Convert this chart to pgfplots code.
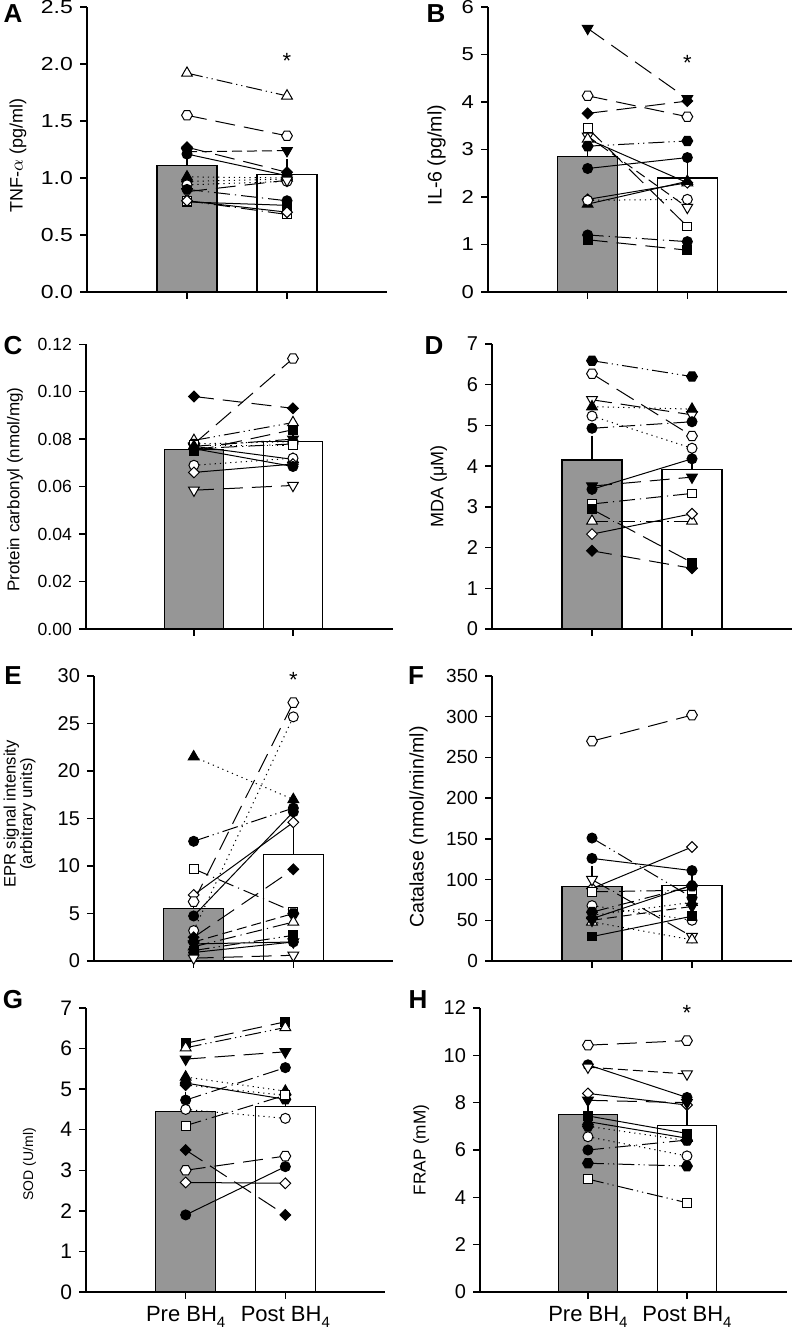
\documentclass[border=0pt]{standalone}
\usepackage{fontspec}
\setmainfont{Liberation Sans}
\usepackage{pgfplots}
\pgfplotsset{compat=1.18}
\usetikzlibrary{plotmarks}

\pgfdeclareplotmark{hexagon*}{%
 \pgfpathmoveto{\pgfqpoint{\pgfplotmarksize}{0pt}}%
 \pgfpathlineto{\pgfqpoint{0.5\pgfplotmarksize}{0.866\pgfplotmarksize}}%
 \pgfpathlineto{\pgfqpoint{-0.5\pgfplotmarksize}{0.866\pgfplotmarksize}}%
 \pgfpathlineto{\pgfqpoint{-\pgfplotmarksize}{0pt}}%
 \pgfpathlineto{\pgfqpoint{-0.5\pgfplotmarksize}{-0.866\pgfplotmarksize}}%
 \pgfpathlineto{\pgfqpoint{0.5\pgfplotmarksize}{-0.866\pgfplotmarksize}}%
 \pgfpathclose
 \pgfusepathqfillstroke}

\definecolor{barg}{RGB}{150,150,150}
\newcommand\fs[1]{\fontsize{#1}{#1}\selectfont}
\newcommand\sub[1]{\raisebox{-0.5ex}{\fontsize{7.5}{8}\selectfont #1}}

\pgfplotsset{
 mfc/.style={mark=*, mark size=2.5pt, mark options={solid, draw=black, fill=black, line width=0.5pt}},
 moc/.style={mark=*, mark size=2.5pt, mark options={solid, draw=black, fill=white, line width=0.5pt}},
 mftu/.style={mark=triangle*, mark size=3.1pt, mark options={solid, draw=black, fill=black, line width=0.5pt}},
 motu/.style={mark=triangle*, mark size=3.1pt, mark options={solid, draw=black, fill=white, line width=0.5pt}},
 mftd/.style={mark=triangle*, mark size=3.1pt, mark options={solid, draw=black, fill=black, rotate=180, line width=0.5pt}},
 motd/.style={mark=triangle*, mark size=3.1pt, mark options={solid, draw=black, fill=white, rotate=180, line width=0.5pt}},
 mfs/.style={mark=square*, mark size=2.2pt, mark options={solid, draw=black, fill=black, line width=0.5pt}},
 mos/.style={mark=square*, mark size=2.2pt, mark options={solid, draw=black, fill=white, line width=0.5pt}},
 mfd/.style={mark=square*, mark size=1.9pt, mark options={solid, draw=black, fill=black, rotate=45, line width=0.5pt}},
 mod/.style={mark=square*, mark size=1.9pt, mark options={solid, draw=black, fill=white, rotate=45, line width=0.5pt}},
 mfh/.style={mark=hexagon*, mark size=2.7pt, mark options={solid, draw=black, fill=black, line width=0.5pt}},
 moh/.style={mark=hexagon*, mark size=2.7pt, mark options={solid, draw=black, fill=white, line width=0.5pt}},
 ls1/.style={solid},
 ls2/.style={dash pattern=on 10pt off 4.5pt},
 ls3/.style={dash pattern=on 0.6pt off 2pt},
 ls4/.style={dash pattern=on 8pt off 2.5pt on 0.6pt off 2.5pt},
 ls5/.style={dash pattern=on 8pt off 2pt on 0.6pt off 2pt on 0.6pt off 2pt},
 ls6/.style={dash pattern=on 5pt off 2.5pt},
 panel/.style={
  scale only axis, axis lines*=left, xmin=0, xmax=3, ymin=0,
  xtick={1,2}, xticklabels={}, tick align=outside, major tick length=3.5pt,
  axis line style={line width=0.7pt, black}, tick style={line width=0.7pt, black},
  /pgf/number format/assume math mode=true, scaled y ticks=false, clip=false,
  anchor=south west,
 },
 bargray/.style={ybar, bar width=0.6, fill=barg, draw=black, line width=0.6pt,
  error bars/.cd, y dir=plus, y explicit,
  error bar style={line width=0.6pt, black, solid},
  error mark options={line width=0.6pt, black, mark size=3pt}},
 barwhite/.style={ybar, bar width=0.6, fill=white, draw=black, line width=0.6pt,
  error bars/.cd, y dir=plus, y explicit,
  error bar style={line width=0.6pt, black, solid},
  error mark options={line width=0.6pt, black, mark size=3pt}},
}
\newcommand\subj[4]{\addplot[black, line width=0.5pt, #1, #2] coordinates {(1,#3) (2,#4)};}

\begin{document}
\begin{tikzpicture}
\useasboundingbox (0,0) rectangle (396pt,666.5pt);

% ---------- A ----------
\begin{axis}[panel, at={(43.5pt,520.5pt)}, width=150pt, height=142.5pt,
  ymax=2.5, ytick={0,0.5,...,2.5},
  yticklabel style={font=\fs{11.5}, yscale=0.82, /pgf/number format/.cd, fixed, fixed zerofill, precision=1},
  ylabel={TNF-$\alpha$ (pg/ml)}, ylabel style={font=\fs{9}, at={(axis description cs:-0.23,0.48)}, anchor=center}]
\addplot[bargray] coordinates {(1,1.108) +- (0,0.12)};
\addplot[barwhite] coordinates {(2,1.03) +- (0,0.08)};
\subj{motu}{ls5}{1.92}{1.72}
\subj{moh}{ls2}{1.55}{1.37}
\subj{mfd}{ls2}{1.27}{1.05}
\subj{mftd}{ls6}{1.23}{1.24}
\subj{mfc}{ls1}{1.21}{1.02}
\subj{mftu}{ls3}{1.01}{1.00}
\subj{mfh}{ls3}{0.97}{0.99}
\subj{moc}{ls3}{0.94}{0.97}
\subj{motd}{ls2}{0.88}{0.98}
\subj{mfc}{ls4}{0.90}{0.80}
\subj{mfs}{ls1}{0.79}{0.76}
\subj{mos}{ls4}{0.80}{0.68}
\subj{mod}{ls1}{0.80}{0.70}
\node[font=\fs{11}] at (axis cs:2,2.03) {*};
\end{axis}

% ---------- B ----------
\begin{axis}[panel, at={(244pt,520.5pt)}, width=149.5pt, height=142.5pt,
  ymax=6, ytick={0,1,...,6},
  yticklabel style={font=\fs{11}, yscale=0.85},
  ylabel={IL-6 (pg/ml)}, ylabel style={font=\fs{9.8}, at={(axis description cs:-0.172,0.48)}, anchor=center}]
\addplot[bargray] coordinates {(1,2.85) +- (0,0.28)};
\addplot[barwhite] coordinates {(2,2.40) +- (0,0.30)};
\subj{mftd}{ls2}{5.55}{4.07}
\subj{moh}{ls2}{4.13}{3.69}
\subj{mfd}{ls2}{3.76}{4.02}
\subj{mos}{ls2}{3.45}{1.38}
\subj{motd}{ls6}{3.28}{1.78}
\subj{motu}{ls1}{3.22}{2.30}
\subj{mfh}{ls5}{3.07}{3.18}
\subj{mfc}{ls1}{2.60}{2.83}
\subj{mod}{ls1}{1.95}{2.30}
\subj{mftu}{ls1}{1.85}{2.33}
\subj{moc}{ls3}{1.93}{1.95}
\subj{mfc}{ls4}{1.20}{1.06}
\subj{mfs}{ls2}{1.10}{0.88}
\node[font=\fs{11}] at (axis cs:2,4.82) {*};
\end{axis}

% ---------- C ----------
\begin{axis}[panel, at={(43pt,352pt)}, width=153.5pt, height=142.35pt,
  xmin=-0.09, xmax=3.01, ymax=0.12, ytick={0,0.02,...,0.12},
  yticklabel style={font=\fs{8.8}, /pgf/number format/.cd, fixed, fixed zerofill, precision=2},
  ylabel={Protein carbonyl (nmol/mg)}, ylabel style={font=\fs{8.5}, at={(axis description cs:-0.231,0.49)}, anchor=center}]
\addplot[bargray] coordinates {(1,0.0755) +- (0,0.003)};
\addplot[barwhite] coordinates {(2,0.079) +- (0,0.003)};
\subj{moh}{ls2}{0.078}{0.114}
\subj{mfd}{ls2}{0.098}{0.093}
\subj{motu}{ls5}{0.0795}{0.087}
\subj{mfs}{ls2}{0.075}{0.084}
\subj{mftd}{ls4}{0.077}{0.080}
\subj{mfc}{ls4}{0.076}{0.078}
\subj{mfh}{ls3}{0.078}{0.079}
\subj{mos}{ls3}{0.0775}{0.0775}
\subj{mftu}{ls1}{0.077}{0.0715}
\subj{moc}{ls3}{0.069}{0.072}
\subj{mod}{ls1}{0.066}{0.0695}
\subj{mfc}{ls1}{0.076}{0.0685}
\subj{motd}{ls2}{0.0585}{0.0605}
\end{axis}

% ---------- D ----------
\begin{axis}[panel, at={(246pt,352pt)}, width=150pt, height=142.5pt,
  ymax=7, ytick={0,1,...,7},
  yticklabel style={font=\fs{10}},
  ylabel={MDA (μM)}, ylabel style={font=\fs{9}, at={(axis description cs:-0.178,0.50)}, anchor=center}]
\addplot[bargray] coordinates {(1,4.15) +- (0,0.45)};
\addplot[barwhite] coordinates {(2,3.92) +- (0,0.40)};
\subj{mfh}{ls5}{6.59}{6.20}
\subj{moh}{ls2}{6.27}{4.74}
\subj{motd}{ls2}{5.63}{5.26}
\subj{mftu}{ls3}{5.46}{5.40}
\subj{moc}{ls3}{5.23}{4.44}
\subj{mfc}{ls4}{4.93}{5.09}
\subj{mftd}{ls2}{3.51}{3.73}
\subj{mfc}{ls1}{3.43}{4.18}
\subj{mos}{ls4}{3.07}{3.33}
\subj{mfs}{ls2}{2.94}{1.63}
\subj{motu}{ls4}{2.65}{2.65}
\subj{mod}{ls1}{2.33}{2.83}
\subj{mfd}{ls2}{1.92}{1.49}
\end{axis}

% ---------- E ----------
\begin{axis}[panel, at={(47pt,186pt)}, width=149.5pt, height=142.5pt,
  ymax=30, ytick={0,5,...,30},
  yticklabel style={font=\fs{10}},
  ylabel={EPR signal intensity\\(arbitrary units)}, ylabel style={font=\fs{8.3}, align=center, at={(axis description cs:-0.249,0.516)}, anchor=center}]
\addplot[bargray] coordinates {(1,5.55) +- (0,1.3)};
\addplot[barwhite] coordinates {(2,11.2) +- (0,2.5)};
\subj{mftu}{ls3}{21.5}{17.0}
\subj{mfc}{ls5}{12.6}{16.1}
\subj{mos}{ls4}{9.7}{5.2}
\subj{mod}{ls1}{6.95}{14.6}
\subj{moh}{ls2}{6.25}{27.2}
\subj{mfc}{ls1}{4.74}{15.7}
\subj{moc}{ls3}{3.2}{25.7}
\subj{mfd}{ls2}{2.5}{9.65}
\subj{mfh}{ls6}{2.0}{5.0}
\subj{motu}{ls4}{1.5}{4.1}
\subj{mfs}{ls5}{1.1}{2.7}
\subj{mftd}{ls1}{1.8}{2.0}
\subj{mfc}{ls1}{0.9}{2.0}
\subj{motd}{ls2}{0.3}{0.6}
\node[font=\fs{11}] at (axis cs:2,29.6) {*};
\end{axis}

% ---------- F ----------
\begin{axis}[panel, at={(246pt,186pt)}, width=150pt, height=142.5pt,
  ymax=350, ytick={0,50,...,350},
  yticklabel style={font=\fs{9.5}},
  ylabel={Catalase (nmol/min/ml)}, ylabel style={font=\fs{9.8}, at={(axis description cs:-0.245,0.47)}, anchor=center}]
\addplot[bargray] coordinates {(1,91.3) +- (0,18)};
\addplot[barwhite] coordinates {(2,92.5) +- (0,15)};
\subj{moh}{ls2}{270}{302}
\subj{mfc}{ls5}{151}{78}
\subj{mfc}{ls1}{126}{111}
\subj{mod}{ls1}{89}{140}
\subj{motd}{ls2}{100}{30}
\subj{mos}{ls4}{85}{87}
\subj{moc}{ls3}{68}{50}
\subj{mfh}{ls4}{60}{92}
\subj{mftu}{ls3}{56}{72}
\subj{mfd}{ls1}{52}{93}
\subj{motu}{ls3}{48}{26}
\subj{mfs}{ls1}{30}{55}
\subj{mftd}{ls6}{50}{67}
\end{axis}

% ---------- G ----------
\begin{axis}[panel, at={(43pt,20.5pt)}, width=149.5pt, height=142pt,
  ymax=7, ytick={0,1,...,7},
  yticklabel style={font=\fs{10.5}},
  xticklabels={Pre BH\sub{4}, Post BH\sub{4}}, xticklabel style={font=\fs{11}},
  ylabel={SOD (U/ml)}, ylabel style={font=\fs{7}, at={(axis description cs:-0.189,0.45)}, anchor=center}]
\addplot[bargray] coordinates {(1,4.44) +- (0,0.35)};
\addplot[barwhite] coordinates {(2,4.57) +- (0,0.35)};
\subj{mfs}{ls2}{6.13}{6.66}
\subj{motu}{ls5}{6.02}{6.52}
\subj{mftd}{ls2}{5.74}{5.92}
\subj{mfc}{ls4}{4.73}{5.53}
\subj{mftu}{ls3}{5.30}{4.95}
\subj{mfh}{ls1}{5.15}{4.75}
\subj{mfd}{ls3}{5.10}{4.85}
\subj{moc}{ls3}{4.50}{4.28}
\subj{mos}{ls4}{4.10}{4.85}
\subj{mfd}{ls2}{3.50}{1.90}
\subj{moh}{ls2}{3.00}{3.35}
\subj{mod}{ls1}{2.70}{2.68}
\subj{mfc}{ls1}{1.90}{3.09}
\end{axis}

% ---------- H ----------
\begin{axis}[panel, at={(240pt,20.5pt)}, width=153.5pt, height=142pt,
  xmin=-0.09, xmax=3.01, ymax=12, ytick={0,2,...,12},
  yticklabel style={font=\fs{10}},
  xticklabels={Pre BH\sub{4}, Post BH\sub{4}}, xticklabel style={font=\fs{11}},
  ylabel={FRAP (mM)}, ylabel style={font=\fs{8.6}, at={(axis description cs:-0.192,0.50)}, anchor=center}]
\addplot[bargray] coordinates {(1,7.51) +- (0,0.46)};
\addplot[barwhite] coordinates {(2,7.03) +- (0,0.48)};
\subj{moh}{ls2}{10.43}{10.62}
\subj{mfc}{ls1}{9.60}{8.22}
\subj{motd}{ls6}{9.50}{9.21}
\subj{mod}{ls1}{8.39}{7.90}
\subj{mftd}{ls2}{8.10}{8.00}
\subj{mfs}{ls1}{7.44}{6.70}
\subj{mftu}{ls1}{7.20}{6.50}
\subj{mfh}{ls3}{7.00}{6.40}
\subj{moc}{ls3}{6.56}{5.75}
\subj{mfc}{ls4}{6.00}{6.42}
\subj{mfh}{ls5}{5.44}{5.32}
\subj{mos}{ls5}{4.77}{3.77}
\node[font=\fs{11}] at (axis cs:2,11.8) {*};
\end{axis}

% panel letters
\begin{scope}[every node/.style={font=\bfseries\fs{13}}]
\node at (6.5pt,659.5pt) {A};
\node at (218pt,659.5pt) {B};
\node at (6.5pt,493.5pt) {C};
\node at (217pt,493.5pt) {D};
\node at (6.5pt,328.5pt) {E};
\node at (208pt,328.5pt) {F};
\node at (6.5pt,166.5pt) {G};
\node at (209pt,166.5pt) {H};
\end{scope}
\end{tikzpicture}
\end{document}
